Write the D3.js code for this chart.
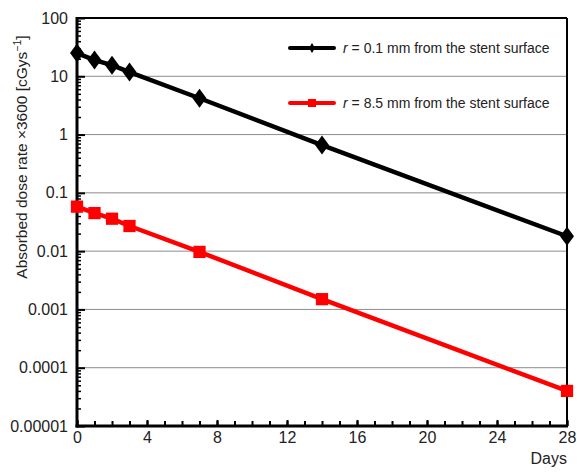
<!DOCTYPE html>
<html>
<head>
<meta charset="utf-8">
<script src="https://cdn.jsdelivr.net/npm/d3@7"></script>
<style>
  body { margin: 0; background: #fff; }
  svg { font-family: "Liberation Sans", Arial, sans-serif; }
  .grid line { stroke: #8c8c8c; stroke-width: 1; }
</style>
</head>
<body>
<div id="chart"></div>
<script>
// Days after implantation
const days = [0, 1, 2, 3, 7, 14, 28];
// r = 0.1 mm series
const nearValues = [25, 19, 15.5, 11.8, 4.2, 0.66, 0.018];
// r = 8.5 mm series
const farValues = [0.058, 0.045, 0.036, 0.027, 0.0097, 0.0015, 0.00004];
const seriesNames = ['r = 0.1 mm from the stent surface', 'r = 8.5 mm from the stent surface'];
const xTickLabels = [0, 4, 8, 12, 16, 20, 24, 28];
const yTickLabels = ['0.00001', '0.0001', '0.001', '0.01', '0.1', '1', '10', '100'];

// tall diamond path, w x h
function diamondPath(w, h) {
    return `M0,${-h / 2}L${w / 2},0L0,${h / 2}L${-w / 2},0Z`;
}

function drawChart() {
    const W = 577, H = 472;
    const margin = {top: 18, right: 10, bottom: 46, left: 77};
    const width = 567 - margin.left;
    const height = 426 - margin.top;

    const svg = d3.select('#chart').append('svg')
        .attr('width', W)
        .attr('height', H);

    const g = svg.append('g')
        .attr('transform', `translate(${margin.left},${margin.top})`);

    const x = d3.scaleLinear().domain([0, 28]).range([0, width]);
    const y = d3.scaleLog().domain([1e-5, 100]).range([height, 0]);

    const decades = yTickLabels.map(Number);

    // horizontal grid at each decade
    g.append('g')
        .attr('class', 'grid')
        .selectAll('line')
        .data(decades.slice(1, -1))
        .enter().append('line')
        .attr('x1', 0)
        .attr('x2', width)
        .attr('y1', d => y(d))
        .attr('y2', d => y(d));

    // minor log ticks (inside)
    const minor = [];
    decades.slice(0, -1).forEach(d => {
        for (let k = 2; k <= 9; k++) minor.push(d * k);
    });
    g.append('g')
        .call(d3.axisLeft(y).tickValues(minor).tickSize(-4).tickFormat(''))
        .call(a => a.select('.domain').remove())
        .selectAll('line').attr('stroke', '#000').attr('stroke-width', 1.5);

    // major y ticks + labels
    const yAxis = g.append('g')
        .call(d3.axisLeft(y).tickValues(decades).tickSize(-8).tickPadding(9)
            .tickFormat((d, i) => yTickLabels[i]));
    yAxis.select('.domain').remove();
    yAxis.selectAll('line').attr('stroke', '#000').attr('stroke-width', 2);
    yAxis.selectAll('text').attr('font-size', 16).attr('fill', '#222')
        .attr('font-family', '"Liberation Sans", Arial, sans-serif');

    // x ticks every day, inside
    const xAxisMinor = g.append('g')
        .attr('transform', `translate(0,${height})`)
        .call(d3.axisBottom(x).tickValues(d3.range(0, 29)).tickSize(-5).tickFormat(''));
    xAxisMinor.select('.domain').remove();
    xAxisMinor.selectAll('line').attr('stroke', '#000').attr('stroke-width', 2);

    const xAxis = g.append('g')
        .attr('transform', `translate(0,${height})`)
        .call(d3.axisBottom(x).tickValues(xTickLabels).tickSize(-6).tickPadding(6));
    xAxis.select('.domain').remove();
    xAxis.selectAll('line').attr('stroke', '#000').attr('stroke-width', 2);
    xAxis.selectAll('text').attr('font-size', 16).attr('fill', '#222')
        .attr('font-family', '"Liberation Sans", Arial, sans-serif');

    // frame
    g.append('line').attr('x1', 0).attr('x2', width).attr('y1', 0).attr('y2', 0)
        .attr('stroke', '#000').attr('stroke-width', 2);
    g.append('line').attr('x1', width).attr('x2', width).attr('y1', 0).attr('y2', height)
        .attr('stroke', '#000').attr('stroke-width', 2);
    g.append('line').attr('x1', 0).attr('x2', 0).attr('y1', -1).attr('y2', height + 1.5)
        .attr('stroke', '#000').attr('stroke-width', 3);
    g.append('line').attr('x1', -1.5).attr('x2', width + 1).attr('y1', height).attr('y2', height)
        .attr('stroke', '#000').attr('stroke-width', 3);

    const line = d3.line()
        .x(d => x(d[0]))
        .y(d => y(d[1]));

    const nearData = days.map((d, i) => [d, nearValues[i]]);
    const farData = days.map((d, i) => [d, farValues[i]]);

    g.append('path').datum(nearData).attr('d', line)
        .attr('fill', 'none').attr('stroke', '#000').attr('stroke-width', 4.5);
    g.append('path').datum(farData).attr('d', line)
        .attr('fill', 'none').attr('stroke', '#ff0000').attr('stroke-width', 4.5);

    const square = d3.symbol().type(d3.symbolSquare).size(150);

    g.selectAll('.near').data(nearData).enter().append('path')
        .attr('transform', d => `translate(${x(d[0])},${y(d[1])})`)
        .attr('d', diamondPath(14, 19)).attr('fill', '#000');
    g.selectAll('.far').data(farData).enter().append('path')
        .attr('transform', d => `translate(${x(d[0])},${y(d[1])})`)
        .attr('d', square).attr('fill', '#ff0000');

    // legend
    const legend = svg.append('g');
    const items = [
        {name: seriesNames[0], color: '#000', sym: diamondPath(6, 10), y: 48},
        {name: seriesNames[1], color: '#ff0000', sym: d3.symbol().type(d3.symbolSquare).size(64)(), y: 103}
    ];
    items.forEach(it => {
        legend.append('line').attr('x1', 290).attr('x2', 334).attr('y1', it.y).attr('y2', it.y)
            .attr('stroke', it.color).attr('stroke-width', 4).attr('stroke-linecap', 'round');
        legend.append('path').attr('transform', `translate(312,${it.y})`)
            .attr('d', it.sym).attr('fill', it.color);
        const t = legend.append('text').attr('x', 343).attr('y', it.y + 5)
            .attr('font-size', 14).attr('fill', '#222');
        t.append('tspan').attr('font-style', 'italic').text('r');
        t.append('tspan').text(it.name.slice(1));
    });

    // axis titles
    svg.append('text')
        .attr('x', 567).attr('y', 464)
        .attr('text-anchor', 'end')
        .attr('font-size', 16).attr('fill', '#222')
        .text('Days');

    const yt = svg.append('text')
        .attr('transform', 'translate(27,157) rotate(-90)')
        .attr('text-anchor', 'middle')
        .attr('font-size', 15.5).attr('fill', '#222');
    yt.append('tspan').text('Absorbed dose rate \u00d73600 [cGys');
    yt.append('tspan').attr('font-size', 10.5).attr('dy', -6).text('\u22121');
    yt.append('tspan').attr('dy', 6).text(']');
}

drawChart();
</script>
</body>
</html>
